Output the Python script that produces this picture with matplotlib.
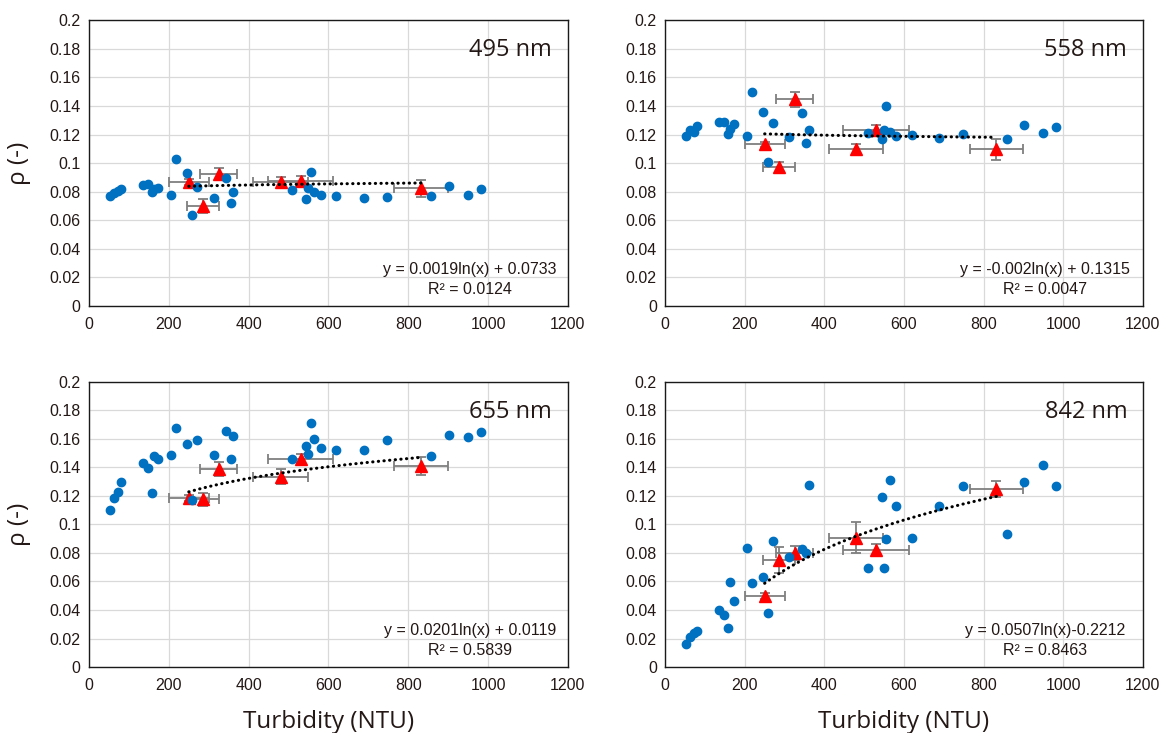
import numpy as np
import matplotlib.pyplot as plt
from matplotlib.ticker import FuncFormatter

# turbidity of the individual samples (NTU), shared by all bands
turb = [52, 62, 72, 80, 135, 148, 158, 163, 172, 206, 218, 245, 259, 270, 312,
        343, 355, 361, 509, 544, 549, 556, 565, 581, 620, 688, 747, 858, 902, 950, 982]

rho_495 = [0.0769, 0.0792, 0.0806, 0.0816, 0.0844, 0.0853, 0.0795, 0.0820, 0.0827, 0.0776,
           0.1028, 0.0928, 0.0636, 0.0835, 0.0755, 0.0895, 0.0723, 0.0795, 0.0815, 0.0748,
           0.0828, 0.0935, 0.0795, 0.0776, 0.0769, 0.0753, 0.0760, 0.0769, 0.0841, 0.0776, 0.0816]
rho_558 = [0.1189, 0.1231, 0.1219, 0.1260, 0.1290, 0.1287, 0.1203, 0.1240, 0.1273, 0.1193,
           0.1497, 0.1359, 0.1009, 0.1277, 0.1180, 0.1352, 0.1138, 0.1231, 0.1210, 0.1166,
           0.1235, 0.1399, 0.1219, 0.1191, 0.1198, 0.1173, 0.1201, 0.1168, 0.1266, 0.1212, 0.1252]
rho_655 = [0.1100, 0.1184, 0.1228, 0.1298, 0.1430, 0.1394, 0.1219, 0.1483, 0.1460, 0.1490,
           0.1675, 0.1563, 0.1172, 0.1595, 0.1490, 0.1656, 0.1457, 0.1623, 0.1457, 0.1551,
           0.1497, 0.1714, 0.1602, 0.1537, 0.1523, 0.1523, 0.1595, 0.1483, 0.1628, 0.1616, 0.1649]
rho_842 = [0.0164, 0.0208, 0.0241, 0.0255, 0.0400, 0.0367, 0.0276, 0.0599, 0.0465, 0.0833,
           0.0592, 0.0634, 0.0377, 0.0886, 0.0774, 0.0826, 0.0798, 0.1277, 0.0692, 0.1195,
           0.0692, 0.0900, 0.1312, 0.1130, 0.0905, 0.1132, 0.1270, 0.0931, 0.1296, 0.1415, 0.1270]

# group means (red triangles) with error bars
grp_turb = [250, 285, 325, 480, 530, 832]
grp_turb_err = [50, 40, 47, 68, 82, 67]

grp_495 = [0.0869, 0.0699, 0.0923, 0.0865, 0.0872, 0.0823]
grp_495_err = [0.002, 0.005, 0.0044, 0.0037, 0.0037, 0.0058]
grp_558 = [0.1131, 0.0970, 0.1445, 0.1096, 0.1229, 0.1096]
grp_558_err = [0.002, 0.0037, 0.005, 0.004, 0.004, 0.0076]
grp_655 = [0.1184, 0.1177, 0.1387, 0.1336, 0.1462, 0.1410]
grp_655_err = [0.002, 0.0046, 0.005, 0.0053, 0.003, 0.0064]
grp_842 = [0.0498, 0.0751, 0.0798, 0.0908, 0.0821, 0.1251]
grp_842_err = [0.002, 0.009, 0.005, 0.0107, 0.004, 0.0056]

# log trendline coefficients y = a*ln(x) + b, and R^2
bands = ['495 nm', '558 nm', '655 nm', '842 nm']
fit_a = [0.0019, -0.002, 0.0201, 0.0507]
fit_b = [0.0733, 0.1315, 0.0119, -0.2212]
fit_r2 = ['0.0124', '0.0047', '0.5839', '0.8463']
eq_text = ['y = 0.0019ln(x) + 0.0733', 'y = -0.002ln(x) + 0.1315',
           'y = 0.0201ln(x) + 0.0119', 'y = 0.0507ln(x)-0.2212']

samples = [rho_495, rho_558, rho_655, rho_842]
groups = [grp_495, grp_558, grp_655, grp_842]
group_errs = [grp_495_err, grp_558_err, grp_655_err, grp_842_err]

txt_col = '#231815'
lbl_font = ['Open Sans', 'DejaVu Sans']
tick_font = 'Liberation Sans'

fig = plt.figure(figsize=(11.71, 7.33), dpi=100)
positions = [[0.076, 0.5825, 0.409, 0.390], [0.568, 0.5825, 0.408, 0.390],
             [0.076, 0.090, 0.409, 0.389], [0.568, 0.090, 0.408, 0.389]]

for i in range(4):
    ax = fig.add_axes(positions[i])
    ax.set_xlim(0, 1200)
    ax.set_ylim(0, 0.2)
    ax.set_xticks(np.arange(0, 1201, 200))
    ax.set_yticks(np.arange(0, 0.2001, 0.02))
    ax.yaxis.set_major_formatter(FuncFormatter(lambda v, p: '{:g}'.format(round(v, 2))))
    ax.grid(True, color='#d9d9d9', lw=0.9)
    ax.set_axisbelow(True)
    ax.tick_params(length=0, labelsize=11.5, colors=txt_col)
    ax.tick_params(axis='x', pad=8)
    ax.tick_params(axis='y', pad=6)
    for lab in ax.get_xticklabels() + ax.get_yticklabels():
        lab.set_fontfamily(tick_font)
    for s in ax.spines.values():
        s.set_color('#1a1a1a')
        s.set_linewidth(1.0)

    ax.errorbar(grp_turb, groups[i], xerr=grp_turb_err, yerr=group_errs[i], fmt='none',
                ecolor='#7f7f7f', elinewidth=1.3, capsize=3.5, capthick=1.3, zorder=3)
    ax.plot(grp_turb, groups[i], '^', color='#ff0000', ms=9, mec='#ff0000', zorder=4)
    ax.plot(turb, samples[i], 'o', color='#0070c0', ms=6, mec='#0070c0', zorder=5)

    xf = np.linspace(min(grp_turb), max(grp_turb), 200)
    ax.plot(xf, fit_a[i] * np.log(xf) + fit_b[i], color='black', lw=2.2,
            linestyle=(0, (0.1, 1.75)), dash_capstyle='round', zorder=6)

    ax.text(0.967, 0.895, bands[i], transform=ax.transAxes, ha='right', va='center',
            fontsize=17, color=txt_col, family=lbl_font)
    ax.text(0.795, 0.093, eq_text[i] + '\nR² = ' + fit_r2[i], transform=ax.transAxes,
            ha='center', va='center', fontsize=11.5, color=txt_col, family=tick_font,
            linespacing=1.4)

    if i % 2 == 0:
        ax.set_ylabel('ρ (-)', fontsize=17.5, color=txt_col, family=lbl_font, labelpad=13)
    if i >= 2:
        ax.set_xlabel('Turbidity (NTU)', fontsize=17.5, color=txt_col, family=lbl_font, labelpad=12)

fig.savefig('out.png', dpi=100)
